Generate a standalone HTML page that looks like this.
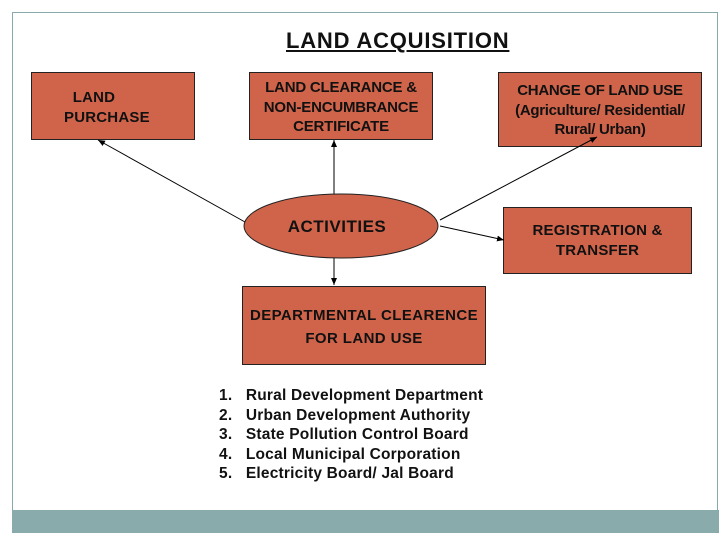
<!DOCTYPE html>
<html><head><meta charset="utf-8"><style>
body{margin:0;width:728px;height:546px;background:#fff;position:relative;font-family:"Liberation Sans",Arial,sans-serif;overflow:hidden}
.frame{position:absolute;left:12px;top:12px;width:706px;height:521px;border:1px solid #8aa;box-sizing:border-box}
.bar{position:absolute;left:12px;top:510px;width:707px;height:23px;background:#8aabab}
.box{position:absolute;background:#d0644b;border:1px solid #222;box-sizing:border-box;font-weight:bold;font-size:15px;letter-spacing:0.2px;color:#111;text-align:center;line-height:19.5px;white-space:nowrap}
.t{position:absolute;font-weight:bold;color:#111;white-space:nowrap}
</style></head><body>
<div class="frame"></div>
<div class="bar"></div>
<div class="t" style="left:286px;top:28px;font-size:22px;letter-spacing:0.8px;text-decoration:underline">LAND ACQUISITION</div>
<div class="box" style="left:31px;top:72px;width:164px;height:68px;padding-top:15px;text-align:left;padding-left:32px">&nbsp;&nbsp;LAND<br>PURCHASE</div>
<div class="box" style="left:249px;top:72px;width:184px;height:68px;padding-top:5px;letter-spacing:-0.2px">LAND CLEARANCE &amp;<br>NON-ENCUMBRANCE<br>CERTIFICATE</div>
<div class="box" style="left:498px;top:72px;width:204px;height:75px;padding-top:8px;letter-spacing:-0.3px">CHANGE OF LAND USE<br>(Agriculture/ Residential/<br>Rural/ Urban)</div>
<div class="box" style="left:503px;top:207px;width:189px;height:67px;padding-top:13px">REGISTRATION &amp;<br>TRANSFER</div>
<div class="box" style="left:242px;top:286px;width:244px;height:79px;padding-top:17px;line-height:23px;letter-spacing:0.4px">DEPARTMENTAL CLEARENCE<br>FOR LAND USE</div>
<svg width="728" height="546" style="position:absolute;left:0;top:0">
<defs><marker id="a" markerWidth="8" markerHeight="8" refX="7" refY="4" orient="auto"><path d="M0,1 L7,4 L0,7z" fill="#000"/></marker></defs>
<g stroke="#000" stroke-width="1" marker-end="url(#a)">
<line x1="245" y1="222" x2="98" y2="140"/>
<line x1="334" y1="195" x2="334" y2="140"/>
<line x1="440" y1="220" x2="597" y2="137"/>
<line x1="440" y1="226" x2="504" y2="240"/>
<line x1="334" y1="258" x2="334" y2="285"/>
</g>
<ellipse cx="341" cy="226" rx="97" ry="32" fill="#d0644b" stroke="#222"/>
<text x="337" y="232" text-anchor="middle" font-family="Liberation Sans,Arial,sans-serif" font-weight="bold" font-size="17" letter-spacing="0.5" fill="#111">ACTIVITIES</text>
</svg>
<div class="t" style="left:219px;top:386px;font-size:15.5px;line-height:19.5px;letter-spacing:0.2px">
<div>1.&nbsp;&nbsp;&nbsp;Rural Development Department</div>
<div>2.&nbsp;&nbsp;&nbsp;Urban Development Authority</div>
<div>3.&nbsp;&nbsp;&nbsp;State Pollution Control Board</div>
<div>4.&nbsp;&nbsp;&nbsp;Local Municipal Corporation</div>
<div>5.&nbsp;&nbsp;&nbsp;Electricity Board/ Jal Board</div>
</div>
</body></html>
